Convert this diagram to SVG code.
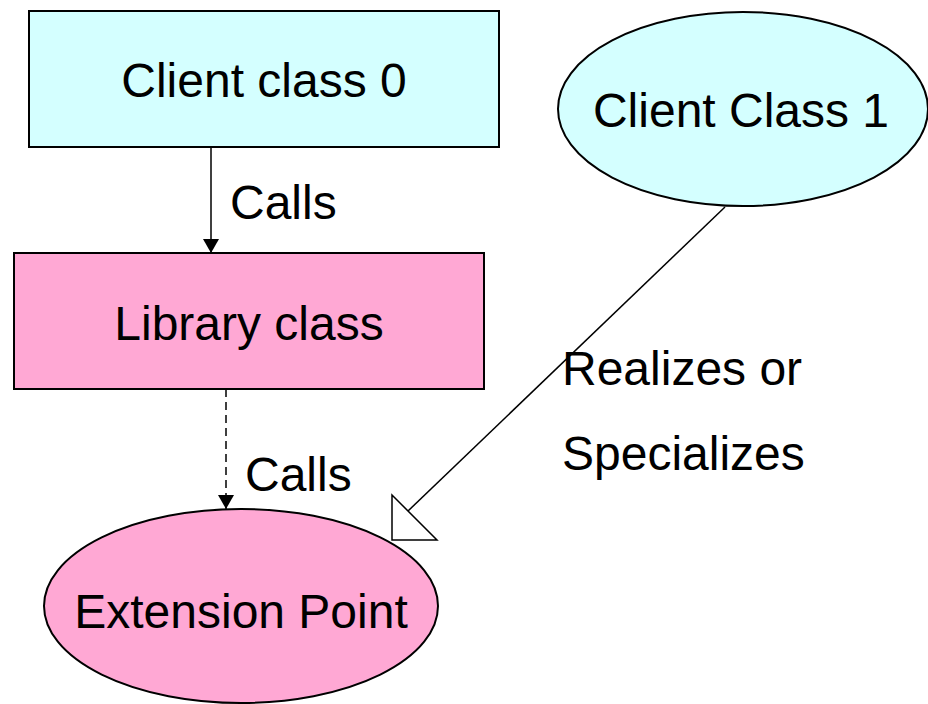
<svg xmlns="http://www.w3.org/2000/svg" width="928" height="704" viewBox="0 0 928 704">
<style>
  text { font-family: "Liberation Sans", Arial, sans-serif; font-size: 48px; fill: #000; }
  .node { stroke: #000; stroke-width: 2; }
  .cyan { fill: #D4FFFF; }
  .pink { fill: #FFA8D4; }
  .conn { stroke: #000; stroke-width: 1.5; fill: none; }
  .dash { stroke-dasharray: 8 5; }
</style>
<defs>
  <marker id="arr" viewBox="0 0 14 16" refX="14" refY="8" markerWidth="14" markerHeight="16" markerUnits="userSpaceOnUse" orient="auto">
    <path d="M0,0 L14,8 L0,16 Z" fill="#000"/>
  </marker>
</defs>
<rect width="928" height="704" fill="#fff"/>
<g id="client0">
  <rect class="node cyan" x="29" y="11" width="470" height="136"/>
  <text x="264" y="97" text-anchor="middle">Client class 0</text>
</g>
<g id="library">
  <rect class="node pink" x="14" y="253" width="470" height="136"/>
  <text x="249" y="340" text-anchor="middle">Library class</text>
</g>
<g id="client1">
  <ellipse class="node cyan" cx="743" cy="109" rx="185" ry="97"/>
  <text x="741" y="127" text-anchor="middle">Client Class 1</text>
</g>
<g id="extension">
  <ellipse class="node pink" cx="241" cy="606" rx="197" ry="97"/>
  <text x="241" y="628" text-anchor="middle">Extension Point</text>
</g>
<g id="connectors">
  <line class="conn" x1="211" y1="147" x2="211" y2="253" marker-end="url(#arr)"/>
  <text x="230" y="219">Calls</text>
  <line class="conn dash" x1="226" y1="389" x2="226" y2="509" marker-end="url(#arr)"/>
  <text x="245" y="491">Calls</text>
  <line class="conn" x1="725" y1="207" x2="408" y2="511"/>
  <polygon points="392,495 392,540 437,540" fill="#fff" stroke="#000" stroke-width="1.5"/>
  <text x="562" y="385">Realizes or</text>
  <text x="562" y="470">Specializes</text>
</g>
</svg>
